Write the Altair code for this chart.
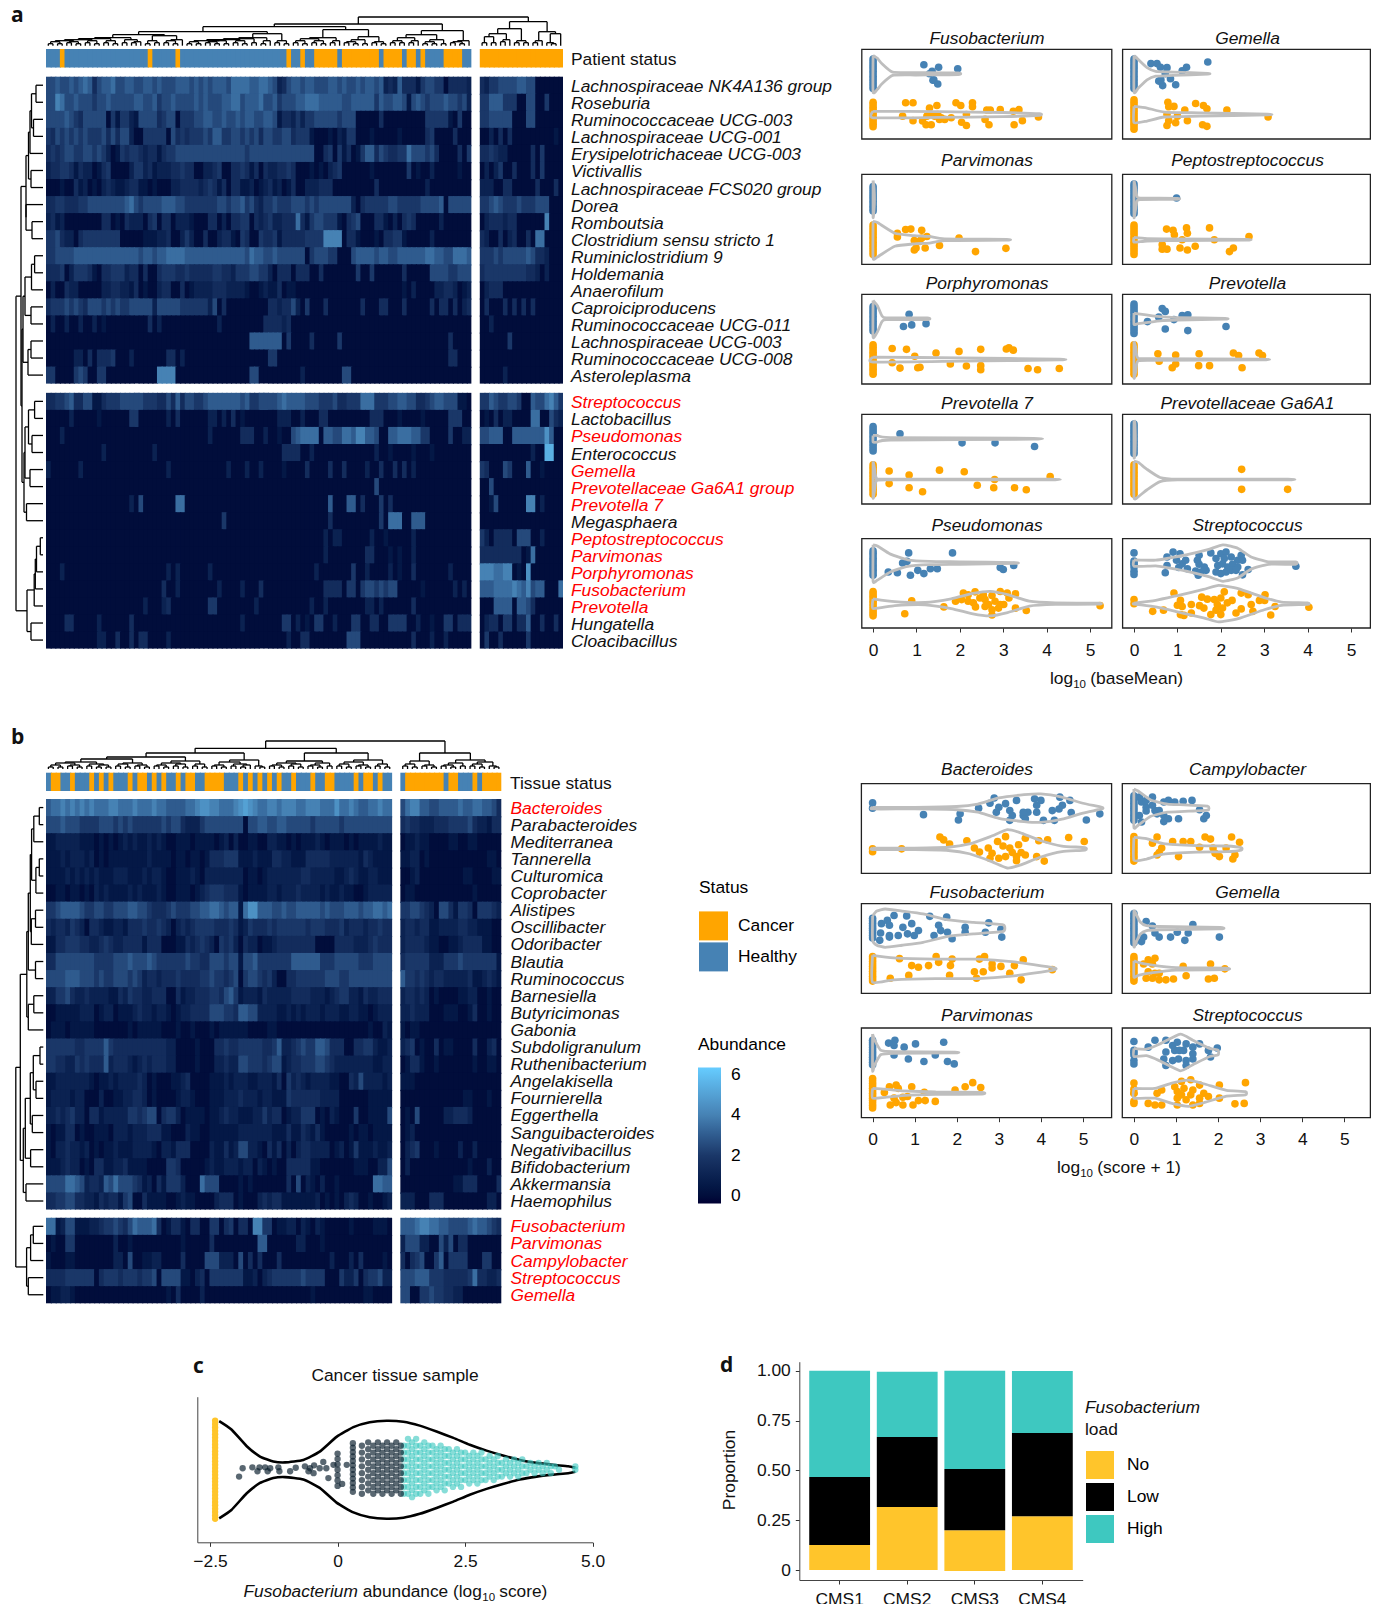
import altair as alt
import pandas as pd

alt.data_transformers.disable_max_rows()
W, H = 1363, 1596
FONT = "Liberation Sans"
FS = 17.4
BLUE, ORANGE = "#4682B4", "#FFA500"
YEL, TEAL = "#FFC52B", "#3EC8C0"
GREY = "#BEBEBE"

# ---------- heat map values: one hex digit per cell, abundance = digit / 2 ----------
A_MAIN = [
"5565565676 3566755665 5665655566 6565656665 7777667765 2356656655 5665655656 6562326333 1455440333 32",
"5587556555 4556555556 6556455655 5565655566 7756667556 4555667776 6666556666 6465566515 6545556554 52",
"5555654355 5550414421 5555345504 4455665565 5656655665 1332424455 5554555000 0030000000 0044444104 00",
"4354545454 4453535520 0444440534 3444546644 5545453554 4553444100 0102144000 1000001000 0034000030 00",
"3434554455 4542014344 3233134455 5555555555 5554555555 5555555500 3404130146 6354334475 5545300003 0451",
"2334431322 0134000024 4231222334 3300223400 3343130322 3343000101 0234000000 1000000040 1002000001 00",
"0001003120 1023211233 1101000223 3332343130 3311201231 2013002223 3300000000 0300000000 0020000000 00",
"3344333445 5555555675 4555566655 4444444554 5564532445 4445554545 5555552034 4444554444 4555560555 55",
"2312000000 0033010322 2034033022 2100033020 3344032342 2333731455 4441034500 0331020343 0000020000 00",
"4453220344 4444440000 0111223002 4200300233 1043004334 1333334444 8888033100 0103344100 0002000000 00",
"4455556666 6666666666 5665667777 6666666666 6665766556 5555550455 5440005666 6566556666 6677665577 76",
"3334024443 1033444233 0300344433 4333334433 2444554420 3330333003 0000000400 4000000300 0005555445 55",
"0200322000 0022332213 0100233003 0122223332 2221001211 3011000000 0000000000 0000000102 0000223320 12",
"3444545435 5545454455 5552555554 4444425030 0000000033 2335204000 3000000030 0033000300 0003033030 23",
"0200200200 2010000000 0030200000 0000000200 0000000333 3230000000 0000000000 0000000000 0000000000 00",
"0000000000 0000000000 0000000000 0000000000 0000666666 6040000300 0004000000 0000000000 0000000300 00",
"0000002203 0333400020 0000003302 0000000000 0000000044 0000000000 0000000000 0000000000 0000000330 00",
"4400004540 0440000000 0000888800 0000000000 0000550000 0000020000 0000550000 0000000000 0000000000 00",
"3344563355 1134445555 5444335363 5544566666 6656445555 6766665554 4453344477 7444556655 3345665551 10",
"0000020000 0100000044 0000002030 0000022020 3010000000 2220020003 3000000000 3330001000 0100000444 00",
"0002000000 0000000000 0000000000 0000020000 0033300200 1005677770 6655776886 6500667776 6440000400 22",
"0000000000 0020000000 0002000000 0000000000 0000000000 0333300200 0000000000 0200100001 0001000000 00",
"2000000200 0000000000 0000002000 0000000002 0002002000 0100003000 0300300002 0030030302 0000000000 00",
"0000000000 0000000000 0000000000 0000000000 0000000000 0000000000 0000000000 0500000000 0000000000 00",
"0000000000 0000000020 5000000077 0000000000 0000000000 0000000000 0600066030 0040300000 0000000000 00",
"0000000000 0000000000 0000000000 0000000040 0000000000 0000000000 0300000000 0040777006 6600000000 00",
"0000000000 0000000000 0000000000 0000000000 0000000000 0000000000 2022000000 2001000002 0000000000 00",
"0000000000 0000000000 0000000000 0000000000 0000000000 0000000000 2000000003 3000101002 0000000000 00",
"0002000000 0000000000 0000002020 0000020000 0000000000 0000000020 0000004002 0000201003 0000000200 00",
"0000000000 0000000000 0000030020 0000000200 0020003000 0000000000 3333044045 5454550000 0100000020 20",
"0000000000 0000000000 0200023000 0000044000 0000020000 0000000200 2000000002 2020000003 0000000000 00",
"0000330000 0200000030 0000000000 0000000000 0020000000 0440201044 0020004400 3300444400 2001004403 33",
"0000000000 0220030030 3300002000 0000000000 0000000000 0020033000 0000055500 0000000003 0002002000 00",
]
A_SIDE = [
"324455556655000000", "446664440055004000", "445555500055000000", "002030300000000010",
"334322000003040000", "020240030003040000", "222003300000300030", "445654445444555000",
"023332330000008000", "320030230030770000", "444545555565332000", "344444444433202000",
"023330000000000000", "030003030303000000", "002000000000000000", "000000400000000000",
"000000000000000000", "000002000000000000", "446544554006557864", "010302200007700532",
"556660066666669600", "00000000000200bb00", "430005400060010000", "005000000000000000",
"001500000088020000", "000000000000000000", "420333305550020000", "333333333017000000",
"888778801090000000", "666777787685660007", "000666606653000000", "023304403360030030",
"040030000040000000",
]
B_MAIN = [
"6778787878 7778877787 7787766667 7899887778 9a98778878 8877888777 9778766778 77",
"5556555444 4555454544 4444545532 2245555555 5055665566 5555545555 5455555555 55",
"1122222111 0101012121 1212100111 0111101202 0011002211 0101112101 1101011112 11",
"1112122212 0101111111 1211110110 1101333444 1112111332 2111333332 2222213211 11",
"1111212121 2111222111 2122100111 2102222222 2011012222 2223322222 1123211221 11",
"0011011010 2121111212 1112100111 0123444333 1011112212 2232222121 1211001222 22",
"4456666544 5544555665 5433345444 5566776566 1799666556 5566666565 5566656677 67",
"3233243203 3211221333 4334320232 3444433343 1243334344 4444344433 3423332334 33",
"1133444332 2343223333 1333000113 2343204342 0322011233 3333330000 3333222343 33",
"3355555555 4444555655 5654444445 4433555455 1556444444 4666666444 5555544455 55",
"5555666555 4544555454 2332333433 3344544345 0455434200 3344444455 5445555555 55",
"2244532232 2221132433 2233300312 2333443564 1222132222 2333322212 3442213223 33",
"0011111222 0122011123 2212210122 3333555443 6655222211 2121222122 2112211012 22",
"0111011111 0000000101 1111000100 1000101111 1100001100 0000000000 0000000100 21",
"4444443344 4464333333 3333322000 0100033433 4444433462 2345446653 3300334421 12",
"4433224343 3362333212 3233322000 0100022322 5544434551 2334445543 2222222211 22",
"1122222221 0112122223 2010001123 0000111212 2211222130 4232122221 1003252222 12",
"1222212200 0200112233 2010000122 1000111222 3222122111 4333333222 2000000111 11",
"2232342203 3122222443 4550344201 1110112322 1112242330 1224440102 1000400111 15",
"1011330100 1110222122 2333110002 1100111111 2222222111 3113213100 0001011011 11",
"1022322120 1011211122 2210221333 0000211312 5522103130 2023322220 1201411121 12",
"1112322010 3311223111 1000044300 0001211222 1220210100 3333311000 0000111002 25",
"5555776523 3265755543 1203144420 0075550000 1010000000 3050210200 1000000077 66",
"3344553322 1323314500 3111100121 1000023330 1000232331 1111112010 1023200100 12",
"7712551112 2344543576 6673013310 3300440340 3308844011 2202102100 0001000011 10",
"0100440000 0000200100 0000000010 0000300000 0000660000 0022000100 0000000000 00",
"1000110000 0000220500 1122000030 0005552220 5030300030 0000000002 0002030000 10",
"3333444444 0344434443 4450555511 0230444444 4112023444 4445444400 0422403445 22",
"0112210000 0000000000 0000010300 0020000000 0000000000 0000010000 0000001100 00",
]
B_SIDE = [
"578866556666766776653", "343322233344445322133", "011211000011001100000", "112201000000000000110",
"001200000000011000011", "011000000000000100000", "445543205531443044432", "233233112222332211100",
"233332110011233331100", "344444222444544444441", "644343233222223112321", "233232010000112200100",
"223222000111001300100", "101100000000000000000", "234010030110000300230", "013310010000000100110",
"111000000000000000000", "000000000000011000100", "010500000223332000000", "012000000000000000000",
"023400010000200200000", "020000000000001000200", "000000000001133300003", "222000333000000000220",
"666788776655556766543", "255522005250330000000", "303450046044440004400", "555666444333334733223",
"550044544332200000000",
]
STATUS_A_CANCER = [3, 22, 28, 52, 55, 58, 59, 60, 61, 62, 64, 65, 66, 67, 68, 69, 70, 71, 73, 74, 75, 76, 78, 79, 81, 86, 87, 88, 89]
STATUS_A_SIDE_HEALTHY = []
STATUS_B_CANCER = [1, 2, 5, 9, 11, 13, 17, 19, 20, 22, 24, 27, 29, 30, 33, 34, 35, 36, 40, 42, 44, 46, 48, 51, 55, 58, 59, 64, 66, 67, 69]
STATUS_B_SIDE_HEALTHY = [0, 9, 12, 13, 14, 16]

A_ROWS = ["Lachnospiraceae NK4A136 group", "Roseburia", "Ruminococcaceae UCG-003", "Lachnospiraceae UCG-001",
          "Erysipelotrichaceae UCG-003", "Victivallis", "Lachnospiraceae FCS020 group", "Dorea", "Romboutsia",
          "Clostridium sensu stricto 1", "Ruminiclostridium 9", "Holdemania", "Anaerofilum", "Caproiciproducens",
          "Ruminococcaceae UCG-011", "Lachnospiraceae UCG-003", "Ruminococcaceae UCG-008", "Asteroleplasma",
          "Streptococcus", "Lactobacillus", "Pseudomonas", "Enterococcus", "Gemella", "Prevotellaceae Ga6A1 group",
          "Prevotella 7", "Megasphaera", "Peptostreptococcus", "Parvimonas", "Porphyromonas", "Fusobacterium",
          "Prevotella", "Hungatella", "Cloacibacillus"]
A_RED = {"Streptococcus", "Pseudomonas", "Gemella", "Prevotellaceae Ga6A1 group", "Prevotella 7",
         "Peptostreptococcus", "Parvimonas", "Porphyromonas", "Fusobacterium", "Prevotella"}
B_ROWS = ["Bacteroides", "Parabacteroides", "Mediterranea", "Tannerella", "Culturomica", "Coprobacter", "Alistipes",
          "Oscillibacter", "Odoribacter", "Blautia", "Ruminococcus", "Barnesiella", "Butyricimonas", "Gabonia",
          "Subdoligranulum", "Ruthenibacterium", "Angelakisella", "Fournierella", "Eggerthella", "Sanguibacteroides",
          "Negativibacillus", "Bifidobacterium", "Akkermansia", "Haemophilus", "Fusobacterium", "Parvimonas",
          "Campylobacter", "Streptococcus", "Gemella"]
B_RED = {"Bacteroides", "Fusobacterium", "Parvimonas", "Campylobacter", "Streptococcus", "Gemella"}

# ---------- dendrogram merge heights between neighbouring leaves ----------
A_TOP_GAPS = [2,4,2,5,3,4,2,6,3,5,2,7,3,5,2,8,3,6,3,4,11,2,5,3,10,3,5,2,6, 14,
              2,4,2,5,3,4,2,5,2,6,3,5,2,7,3,8,2,5,12,3,5,2, 19,
              3,5,2,7,3,5,2,8,3,5,16,3,4,2,6,2,9,3,4,2, 21.7,
              3,5,3,8,3,5,11,2,4,2,6,2,15,3,4,2,5, 28.7,
              3,9,3,12,4,6,17,3,5,3,24,3,5,14,3,2,12]
A_LEFT_GAPS = [7,11.5,9.5,13,14.5,12,17,17,11,22,8.4,11.5,18,12,20,12,15,21,
               8.4,14.5,11,18,13,19,16.5,27,2.7,6.5,7.7,8.8,16,12]
B_TOP_GAPS = [2,4,2,6,3,4,2,7,3,5,2,4,2,10,3,5,2,6,3,4,2,12,3,4,2,6,3,5,2,8,3,5,2,16,3,4,2,7,3,5,2,4,9,3,2, 20.7,
              3,4,2,6,3,5,2,8,3,4,2,6,3,16,3,5,2,7,3,4,2,9,3,5,2, 28,
              3,5,2,8,3,4,2,16,3,4,2,6,3,9,3,5,2,7,3,2]
B_LEFT_GAPS = [4,9.5,11.7,4,7.4,13,7.8,12,15,7.8,16.5,9.5,15,23,3.3,10,7.3,13,11,18,12.7,20,17.3,27.5,
               10,12.7,16.7,15]

# ---------- jitter strip points (log10 value, vertical offset) and violin profiles (value, half width) ----------
ZERO_OFFS = [-.36, -.3, -.24, -.18, -.12, -.06, 0, .06, .12, .18, .24, .3, .36]

A1 = dict(name="Fusobacterium", zero=(.37, .33),
  hp=[(1.17,.22),(1.51,.16),(1.95,.12),(1.36,.06),(1.30,0),(1.38,-.16),(1.49,-.25),(1.40,-.15)],
  cp=[(.75,.29),(.92,.29),(1.30,.16),(1.47,.22),(1.91,.29),(2.02,.22),(2.29,.29),(2.29,.19),(2.62,.11),(2.70,.11),(2.93,.12),(3.23,.08),(3.36,.12),(.68,-.04),(.92,-.15),(1.14,-.16),(1.22,-.25),(1.34,-.25),(1.30,0),(1.42,-.04),(1.57,-.08),(1.65,-.12),(1.80,-.08),(2.04,-.19),(2.15,-.27),(2.15,0),(2.58,-.12),(2.67,-.25),(3.25,-.25),(3.44,-.15),(3.81,-.06),(1.49,0),(1.24,-.04),(1.53,-.12)],
  hv=[(0,.45),(.1,.38),(.2,.25),(.45,.04),(1.0,.03),(1.96,.02)], cv=[(0,.08),(1.5,.07),(3,.05),(3.83,.02)])
A2 = dict(name="Gemella", zero=(.37, .37),
  hp=[(.39,.25),(.53,.25),(.61,.16),(.76,.15),(1.70,.29),(1.21,.16),(1.11,.07),(.72,0),(.57,-.18),(.66,-.29),(.84,-.12),(.96,-.27),(.62,-.15)],
  cp=[(.78,.30),(.80,.19),(.92,.20),(1.17,.11),(1.42,.27),(1.60,.22),(1.68,.14),(2.14,.11),(.76,0),(.76,-.27),(.96,-.20),(1.0,-.04),(1.23,-.15),(.8,-.15),(1.58,-.25),(1.68,-.29),(3.09,-.06)],
  hv=[(0,.45),(.1,.35),(.3,.15),(.5,.06),(.9,.04),(1.7,.01)], cv=[(0,.2),(.3,.16),(.7,.06),(1.5,.04),(3.08,.01)])
A3 = dict(name="Parvimonas", zero=(.33, .37), hp=[],
  cp=[(.56,.16),(.75,.25),(.87,.26),(1.12,.23),(.56,.07),(1.24,.08),(.95,-.02),(1.12,.04),(1.07,-.04),(1.53,-.14),(1.2,-.2),(.95,-.25),(.99,-.2),(1.98,.04),(2.36,-.29),(3.06,-.21)],
  hv=[(0,.45),(.02,.3),(.03,.1)], cv=[(0,.45),(.1,.42),(.5,.16),(.95,.1),(1.3,.08),(1.65,.02),(3.08,.01)])
A4 = dict(name="Peptostreptococcus", zero=(.37, .37), hp=[(.98,.02)],
  cp=[(.75,.26),(.90,.23),(.93,.12),(1.21,.29),(1.23,.16),(1.74,.29),(2.65,.08),(1.11,0),(1.85,0),(.65,-.12),(.65,-.23),(.76,-.23),(1.06,-.2),(1.23,-.25),(1.41,-.16),(2.2,-.29),(2.29,-.2)],
  hv=[(0,.45),(.03,.3),(.07,.05),(.15,.02),(1.0,.01)], cv=[(0,.06),(.3,.03),(1,.02),(2.6,.01)])
A5 = dict(name="Porphyromonas", zero=(.35, .37),
  hp=[(.83,.11),(.70,-.19),(.89,-.15),(1.22,-.12)],
  cp=[(.44,.27),(.77,.25),(.96,.08),(1.45,.16),(1.98,.2),(2.48,.25),(3.07,.26),(3.13,.29),(3.23,.23),(.44,-.08),(.62,-.21),(1.03,-.2),(1.08,-.19),(1.78,-.11),(2.15,-.16),(2.48,-.15),(2.48,-.25),(3.57,-.22),(3.79,-.25),(4.29,-.22)],
  hv=[(0,.45),(.1,.32),(.2,.08),(.3,.02),(1.25,.02)], cv=[(0,.06),(2,.04),(4.3,.01)])
A6 = dict(name="Prevotella", zero=(.37, .37),
  hp=[(.65,.25),(.72,.18),(.57,.04),(.31,-.07),(.92,-.02),(1.11,.08),(1.24,.1),(.72,-.25),(1.24,-.29),(2.12,-.19)],
  cp=[(.55,.14),(.96,.11),(1.5,.14),(2.29,.16),(2.41,.1),(2.88,.16),(2.96,.1),(.58,-.04),(.96,-.11),(.88,-.2),(1.49,-.15),(1.74,-.15),(2.49,-.2)],
  hv=[(0,.14),(.1,.12),(.6,.05),(1.0,.03),(2.1,.01)], cv=[(0,.45),(.04,.3),(.08,.05),(.3,.02),(2.96,.01)])
A7 = dict(name="Prevotella 7", zero=(.35, .37),
  hp=[(.62,.12),(2.05,-.1),(2.81,-.1),(3.72,-.19)],
  cp=[(.37,.21),(.83,.11),(1.53,.23),(2.10,.19),(2.8,0),(4.08,.07),(.37,-.1),(.83,-.2),(1.14,-.3),(2.4,-.14),(2.78,-.2),(3.26,-.2),(3.53,-.25)],
  hv=[(0,.08),(.1,.08),(.4,.03),(3.7,.01)], cv=[(0,.45),(.03,.3),(.07,.05),(.3,.01),(4.08,.01)])
A8 = dict(name="Prevotellaceae Ga6A1", zero=(.37, .37), hp=[],
  cp=[(2.48,.25),(2.48,-.24),(3.54,-.24)],
  hv=[(0,.45),(.02,.4),(.03,.1)], cv=[(0,.45),(.1,.42),(.3,.25),(.6,.05),(1.0,.01),(3.55,.01)])
A9 = dict(name="Pseudomonas", zero=(.33, .35),
  hp=[(.82,.25),(1.83,.25),(.68,0),(.78,.04),(.35,-.22),(.56,-.24),(.86,-.3),(1.03,-.18),(1.17,-.26),(1.32,-.14),(1.48,-.14),(2.93,-.11),(3.0,-.16),(3.24,-.06)],
  cp=[(.89,.07),(1.63,-.08),(.73,-.25),(1.90,.06),(2.08,.26),(2.19,.22),(2.35,.29),(2.54,.22),(2.74,.2),(2.93,.3),(3.09,.26),(3.28,.24),(2.04,.1),(2.19,.06),(2.31,.02),(2.36,-.08),(2.58,.1),(2.66,-.02),(2.81,.06),(2.93,-.02),(3.13,.14),(2.58,-.07),(2.74,-.15),(2.89,-.11),(3.01,-.02),(3.28,-.11),(2.74,-.28),(3.53,-.17),(5.23,-.05),(2.46,.14)],
  hv=[(0,.45),(.1,.42),(.4,.22),(.8,.08),(1.3,.04),(2,.03),(3.27,.01)], cv=[(0,.12),(.5,.05),(1.2,.03),(1.8,.12),(2.3,.25),(2.7,.3),(3.1,.22),(3.6,.06),(4.2,.02),(5.2,.01)])
A10 = dict(name="Streptococcus", zero=(0, 0),
  hp=[(0,.25),(0,.05),(0,-.03),(0,-.1),(0,-.2),(0,-.28),(.9,.27),(.76,.15),(1.06,.23),(1.5,.19),(1.77,.25),(.98,.07),(1.11,-.02),(1.19,.07),(.76,-.06),(.72,-.24),(1.03,-.11),(1.23,-.14),(1.46,.07),(1.5,-.03),(1.42,-.2),(1.54,-.22),(1.66,-.18),(1.48,-.3),(1.62,-.1),(1.89,.11),(2.0,.23),(2.12,.27),(2.08,.11),(2.24,.15),(2.47,.19),(2.39,.07),(2.5,.07),(1.93,-.06),(2.04,-.02),(2.16,-.1),(2.27,-.03),(2.39,-.1),(1.89,-.22),(2.0,-.26),(2.12,-.22),(2.24,-.18),(2.35,-.18),(2.63,-.16),(2.5,-.29),(3.73,-.08)],
  cp=[(0,.1),(.92,.26),(1.07,.08),(.43,-.19),(.68,-.16),(1.0,-.04),(1.11,-.07),(1.07,-.27),(1.15,-.29),(1.32,-.02),(1.32,-.23),(1.56,.16),(1.69,.11),(1.51,-.05),(1.61,-.11),(1.77,-.27),(1.85,.1),(1.92,-.02),(1.89,-.16),(2.0,-.27),(2.08,.29),(2.0,.14),(2.15,.02),(2.26,.08),(2.04,-.11),(2.47,.26),(2.63,.22),(2.35,-.23),(2.47,-.13),(2.7,-.02),(2.74,-.19),(2.89,.08),(3.02,.22),(3.01,.08),(3.25,-.07),(3.15,-.28),(4.03,-.09)],
  hv=[(0,.08),(.5,.07),(.8,.12),(1.2,.2),(1.7,.33),(2.05,.45),(2.4,.36),(2.7,.15),(3.1,.03),(3.72,.03)], cv=[(0,.01),(.5,.08),(1.0,.2),(1.6,.35),(1.95,.45),(2.4,.37),(3.0,.15),(3.4,.04),(4.0,.02)])

B1 = dict(name="Bacteroides", zero=(0, 0),
  hp=[(0,.13),(1.21,-.16),(2.08,-.14),(2.04,-.29),(2.52,0),(2.89,.25),(2.79,.12),(3.0,.02),(2.94,-.1),(3.16,.11),(3.26,-.06),(3.32,-.18),(3.26,-.3),(3.42,.19),(3.58,-.18),(3.69,-.1),(3.85,.23),(3.9,.07),(3.9,-.1),(3.63,-.26),(4.06,-.3),(4.27,-.06),(4.32,-.3),(4.45,.27),(4.51,.07),(4.43,-.02),(4.69,.19),(4.72,-.11),(5.08,-.29),(5.4,-.14),(3.58,-.1),(4.0,.19)],
  cp=[(0,-.07),(.69,0),(1.6,.29),(1.69,.22),(1.83,.12),(2.24,.2),(2.42,.02),(2.54,-.08),(2.75,.02),(2.97,.18),(3.16,.3),(3.1,.07),(3.26,.02),(3.47,.1),(3.63,.26),(3.95,.2),(4.16,.22),(4.66,.28),(5.03,.18),(2.79,-.23),(3.0,-.23),(3.16,-.19),(3.42,-.19),(3.42,-.29),(3.63,-.15),(3.9,-.19),(4.08,-.3),(3.32,-.09),(3.53,-.09),(2.84,-.11)],
  hv=[(0,.02),(1,.02),(2,.04),(2.5,.1),(3,.25),(3.6,.33),(4,.35),(4.5,.27),(5,.12),(5.45,.02)], cv=[(0,.02),(1,.02),(1.8,.04),(2.3,.12),(2.8,.3),(3.2,.47),(3.5,.4),(4,.2),(4.5,.07),(5.05,.03)])
B2 = dict(name="Campylobacter", zero=(.35, .35),
  hp=[(.13,.27),(.18,.15),(.29,.02),(.29,-.07),(.44,.27),(.5,-.06),(.55,-.14),(.71,.15),(.82,.19),(.97,.15),(1.17,.17),(1.38,.19),(.71,-.18),(.71,-.33),(.82,-.26),(1.06,-.26),(1.56,-.04),(1.66,-.26),(1.72,-.18),(.13,-.18),(.18,-.34),(.29,.19),(.44,.07),(.6,-.06)],
  cp=[(.55,.29),(.44,.14),(.92,.18),(1.17,.18),(1.35,.18),(1.69,.29),(1.82,.24),(2.32,.29),(2.51,.16),(1.56,.04),(1.88,.02),(2.19,.02),(.66,.02),(.6,-.09),(.55,-.15),(1.06,-.19),(1.93,-.11),(2.03,-.19),(2.35,-.25),(2.4,-.15)],
  hv=[(0,.47),(.1,.42),(.4,.2),(.8,.1),(1.2,.08),(1.75,.05)], cv=[(0,.28),(.3,.25),(.7,.13),(1.5,.08),(2.2,.07),(2.55,.03)])
B3 = dict(name="Fusobacterium", zero=(.28, .33),
  hp=[(.21,.11),(.35,.19),(.51,.31),(.4,.07),(.81,.3),(.93,.11),(1.36,.29),(1.76,.27),(2.2,.02),(2.76,.13),(3.05,-.03),(3.07,-.22),(2.68,-.1),(2.2,-.1),(.19,-.12),(.17,-.3),(.4,-.18),(.61,-.18),(.83,-.14),(.99,-.18),(1.09,-.06),(1.46,-.18),(1.62,-.06),(1.78,-.1),(1.89,-.26),(1.57,.07),(.4,-.22),(.72,.02)],
  cp=[(.64,.25),(.93,.08),(1.09,.04),(1.33,.08),(1.51,.3),(1.57,.16),(1.89,.24),(1.85,.08),(2.54,.24),(2.66,.3),(2.84,.12),(3.05,.06),(3.58,.22),(3.37,.08),(4.27,-.02),(.42,-.23),(.86,-.16),(1.83,-.16),(2.42,-.07),(2.63,-.07),(2.47,-.23),(3.26,-.11),(3.53,-.27),(2.84,.02)],
  hv=[(0,.3),(.1,.42),(.3,.47),(.7,.42),(1.2,.35),(1.8,.2),(2.4,.14),(3.1,.08)], cv=[(0,.33),(.5,.27),(1.5,.24),(2.5,.24),(3.3,.18),(4.3,.03)])
B4 = dict(name="Gemella", zero=(.37, .35),
  hp=[(.29,.16),(.44,.05),(1.4,.09),(.23,-.22),(.18,-.33),(.6,-.22),(.87,-.22),(1.03,-.1),(1.21,-.3),(1.29,-.12),(2.03,-.22),(.5,-.12)],
  cp=[(.34,.22),(.5,.26),(.23,.12),(.44,.12),(1.17,.06),(1.82,.12),(2.16,0),(.34,-.07),(.5,-.11),(.29,-.23),(.6,-.27),(.76,-.27),(.94,-.25),(1.24,-.17),(1.77,-.25),(1.91,-.23),(.44,-.23),(.6,-.11)],
  hv=[(0,.45),(.05,.35),(.15,.15),(.3,.06),(.6,.04),(2.05,.02)], cv=[(0,.2),(.1,.16),(.4,.1),(1,.03),(2.2,.02)])
B5 = dict(name="Parvimonas", zero=(.35, .37),
  hp=[(.38,.23),(.53,.3),(.51,.17),(.75,.13),(1.02,.21),(1.69,.25),(.51,-.06),(.85,-.16),(1.22,-.22),(1.49,-.06),(1.78,-.22),(1.94,-.28)],
  cp=[(.4,.16),(.56,.2),(.61,.12),(.93,.16),(.28,.02),(1.23,.02),(1.96,.08),(2.2,.16),(2.38,.26),(2.57,.14),(.72,-.1),(.42,-.29),(.56,-.23),(.72,-.29),(.96,-.29),(1.09,-.18),(1.25,-.18),(1.49,-.2),(.51,-.12),(.83,-.08)],
  hv=[(0,.45),(.05,.3),(.2,.05),(.5,.02),(1.96,.01)], cv=[(0,.12),(.3,.1),(.7,.06),(1.5,.03),(2.6,.02)])
B6 = dict(name="Streptococcus", zero=(0, 0),
  hp=[(0,.27),(0,.05),(0,-.06),(0,-.2),(0,-.28),(.34,.13),(.5,.3),(.76,.3),(.92,.17),(1.03,.25),(1.24,.21),(1.4,.13),(.76,.01),(.97,.05),(1.18,.05),(1.4,-.03),(1.56,.21),(1.77,.05),(1.98,.11),(1.82,-.11),(.71,-.16),(.76,-.32),(.92,-.2),(1.06,-.16),(1.24,-.2),(1.24,-.32),(1.4,-.16),(1.08,.05)],
  cp=[(0,.25),(0,.1),(0,0),(0,-.2),(0,-.25),(.66,.08),(.55,0),(.97,.16),(1.13,.29),(1.35,.33),(1.56,.2),(2.03,.2),(2.65,.26),(1.03,.04),(1.19,.12),(1.4,.08),(1.66,0),(1.13,-.04),(1.35,-.04),(1.77,-.08),(2.03,-.12),(2.62,-.25),(2.4,-.26),(.34,-.25),(.5,-.29),(.66,-.29),(1.03,-.29),(1.4,-.29),(1.56,-.25),(1.24,-.16),(1.03,-.12),(1.56,-.12)],
  hv=[(0,.1),(.3,.08),(.6,.2),(1.1,.45),(1.4,.3),(1.8,.1),(2.0,.06)], cv=[(0,.12),(.5,.12),(.9,.25),(1.3,.32),(1.7,.22),(2.2,.07),(2.65,.04)])

# ---------- panel c ----------
C_VIOLIN = [(-2.32,.99),(-2.08,.82),(-1.78,.48),(-1.52,.27),(-1.26,.17),(-1.03,.15),(-.67,.2),(-.35,.37),(-.02,.67),(.31,.87),(.63,.97),(.96,1.0),(1.29,.98),(1.61,.9),(1.94,.78),(2.27,.65),(2.59,.51),(2.92,.39),(3.24,.29),(3.57,.2),(3.9,.14),(4.22,.1),(4.52,.07),(4.66,.04)]
C_NO_X, C_NO_N = -2.40, 30
C_SINGLE = [(-1.86,.03),(-1.93,-.14),(-1.67,.05),(-1.57,-.03),(-1.53,.05),(-1.42,.05),(-1.32,.03),(-1.16,.05),(-1.14,-.03),(-1.37,-.03),(-.93,-.03),(-.82,.04),(-.64,.07),(-.54,.03),(-.57,-.03),(-.46,.09),(-.47,-.07),(-.28,.16),(-.35,.03),(-.18,-.17),(-.08,.1),(-.22,.03),(.18,.1),(.09,-.29)]
C_LOW_X = [0, .30, .477, .6, .7, .79, .88, .97, 1.06, 1.15, 1.24]
C_LOW_N = [7, 12, 8, 8, 8, 8, 8, 8, 8, 8, 8]
C_LOW_STEP = [.11, .09, .14, .14, .14, .14, .14, .14, .14, .14, .14]
C_HIGH_X = [1.3,1.38,1.46,1.54,1.62,1.7,1.78,1.86,1.94,2.02,2.1,2.18,2.26,2.34,2.42,2.5,2.58,2.66,2.74,2.82,2.9,2.98,3.06,3.14,3.22,3.3,3.38,3.46,3.54,3.62,3.7,3.78,3.86,3.94,4.02,4.1,4.18,4.26,4.34,4.66,4.66]
C_HIGH_N = [8,9,9,9,8,8,8,7,7,7,7,6,6,6,6,5,5,5,5,5,4,4,4,4,3,3,3,3,3,3,2,2,2,2,2,2,2,1,1,1,1]

# ---------- panel d ----------
D_CMS = ["CMS1", "CMS2", "CMS3", "CMS4"]
D_LOW_EDGE = [0, 0, -.005, 0]
D_NO_TOP = [.125, .316, .2, .27]
D_LOW_TOP = [.467, .667, .507, .687]
D_HIGH_TOP = [1.0, .995, 1.0, .998]


def px(v):
    return v - 8


def lin(domain, a, b):
    return alt.Scale(domain=domain, range=[px(a), px(b)], nice=False, zero=False)


AX = dict(labelFont=FONT, labelFontSize=FS, labelColor="#111", grid=False, title=None, labelFlush=False,
          tickColor="#333", domainColor="#444")


def text(t, x, y, size=FS, italic=False, bold=False, align="left", baseline="middle", font=FONT, angle=0, color="#111"):
    kw = dict(font=font, fontSize=size, align=align, baseline=baseline, color=color, angle=angle)
    if italic:
        kw["fontStyle"] = "italic"
    if bold:
        kw["fontWeight"] = "bold"
    return alt.Chart(pd.DataFrame({"t": [t]})).mark_text(**kw).encode(
        text="t:N", x=alt.value(px(x)), y=alt.value(px(y)))


def digits(rows, n):
    out = []
    for r in rows:
        s = r.replace(" ", "")
        out.append((s + "0" * n)[:n])
    return out


def dendro(pos, gaps, hs, vs):
    if len(pos) == 1:
        return pos[0], 0
    m = max(range(len(gaps)), key=lambda i: gaps[i])
    lx, lh = dendro(pos[:m + 1], gaps[:m], hs, vs)
    rx, rh = dendro(pos[m + 1:], gaps[m + 1:], hs, vs)
    h = gaps[m]
    hs.append({"a": lx, "b": rx, "h": h})
    vs.append({"a": lx, "h0": lh, "h1": h})
    vs.append({"a": rx, "h0": rh, "h1": h})
    return (lx + rx) / 2, h


def tree_layers(pos, gaps, leaf_scale, h_scale, top=True):
    hs, vs = [], []
    dendro(pos, gaps, hs, vs)
    hd, vd = pd.DataFrame(hs), pd.DataFrame(vs)
    mk = dict(color="#000", strokeWidth=1.3)
    if top:
        return [
            alt.Chart(hd).mark_rule(**mk).encode(x=alt.X("a:Q", scale=leaf_scale, axis=None), x2="b:Q",
                                                 y=alt.Y("h:Q", scale=h_scale, axis=None)),
            alt.Chart(vd).mark_rule(**mk).encode(x=alt.X("a:Q", scale=leaf_scale, axis=None),
                                                 y=alt.Y("h0:Q", scale=h_scale, axis=None), y2="h1:Q"),
        ]
    return [
        alt.Chart(hd).mark_rule(**mk).encode(y=alt.Y("a:Q", scale=leaf_scale, axis=None), y2="b:Q",
                                             x=alt.X("h:Q", scale=h_scale, axis=None)),
        alt.Chart(vd).mark_rule(**mk).encode(y=alt.Y("a:Q", scale=leaf_scale, axis=None),
                                             x=alt.X("h0:Q", scale=h_scale, axis=None), x2="h1:Q"),
    ]


HEAT_SCALE = alt.Scale(domain=[-.35, 2, 4, 6.35], range=["#000033", "#1a3768", "#4682b4", "#66ccff"], nice=False, zero=False)
STATUS_SCALE = alt.Scale(domain=["Cancer", "Healthy"], range=[ORANGE, BLUE])
OVER_X, OVER_Y = 1.25, 1.08  # each cell runs just under its right and lower neighbours, so no seam shows


def heat_block(main, side, nmain, nside, ngap_rows, split, xs, ys, legend=None):
    rows = []
    mrows, srows = digits(main, nmain), digits(side, nside)
    gapc = xs["gap"]
    nr = len(mrows)
    for r, (m, s) in enumerate(zip(mrows, srows)):
        y = r + (ngap_rows if r >= split else 0)
        y2 = y + (1 if r in (split - 1, nr - 1) else OVER_Y)
        for c, ch in enumerate(m):
            rows.append({"x0": c, "x1": c + (1 if c == nmain - 1 else OVER_X), "y0": y, "y1": y2, "v": int(ch, 16) / 2})
        for c, ch in enumerate(s):
            cc = nmain + gapc + c
            rows.append({"x0": cc, "x1": cc + (1 if c == nside - 1 else OVER_X), "y0": y, "y1": y2, "v": int(ch, 16) / 2})
    col = alt.Color("v:Q", scale=HEAT_SCALE, legend=legend)
    return alt.Chart(pd.DataFrame(rows)).mark_rect(strokeWidth=0, opacity=1).encode(
        x=alt.X("x0:Q", scale=xs["s"], axis=None), x2="x1:Q",
        y=alt.Y("y0:Q", scale=ys, axis=None), y2="y1:Q", color=col)


def status_bar(cancer_main, healthy_side, nmain, nside, xs, y0, y1, legend=None):
    gapc = xs["gap"]
    rows = []
    for c in range(nmain):
        rows.append({"x0": c, "x1": c + (1 if c == nmain - 1 else OVER_X), "s": "Cancer" if c in cancer_main else "Healthy"})
    for c in range(nside):
        cc = nmain + gapc + c
        rows.append({"x0": cc, "x1": cc + (1 if c == nside - 1 else OVER_X), "s": "Healthy" if c in healthy_side else "Cancer"})
    d = pd.DataFrame(rows)
    d["y0"], d["y1"] = 0, 1
    return alt.Chart(d).mark_rect(strokeWidth=0, opacity=1).encode(
        x=alt.X("x0:Q", scale=xs["s"], axis=None), x2="x1:Q",
        y=alt.Y("y0:Q", scale=lin([0, 1], y1, y0), axis=None), y2="y1:Q",
        color=alt.Color("s:N", scale=STATUS_SCALE, legend=legend))


def row_labels(names, red, split, gap, yscale, x, dy):
    rows = []
    for i, n in enumerate(names):
        rows.append({"t": n, "y": i + .5 + (gap if i >= split else 0), "c": "#ff0000" if n in red else "#111111"})
    return alt.Chart(pd.DataFrame(rows)).mark_text(font=FONT, fontSize=FS, fontStyle="italic", align="left", baseline="middle", dy=dy).encode(
        text="t:N", y=alt.Y("y:Q", scale=yscale, axis=None), x=alt.value(px(x)), color=alt.Color("c:N", scale=None))


def outline(center, prof, who):
    up = [(x, center + h) for x, h in prof]
    lo = [(x, center - h) for x, h in reversed(prof)]
    path = up + lo + [up[0]]
    return [{"x": x, "y": y, "i": i, "who": who} for i, (x, y) in enumerate(path)]


def title_x(xa):
    return 987 if xa < 1000 else 1247.5


def violin_panel(p, x_dom, xa, xb, ya, yb, title_y, axis=False):
    xs = lin(x_dom, xa, xb)
    ys = lin([.4, 2.6], yb, ya)
    pts = []
    for o in ZERO_OFFS:
        if abs(o) <= p["zero"][0]:
            pts.append({"x": 0, "y": 2 + o, "s": "Healthy"})
        if abs(o) <= p["zero"][1]:
            pts.append({"x": 0, "y": 1 + o, "s": "Cancer"})
    pts += [{"x": a, "y": 2 + b, "s": "Healthy"} for a, b in p["hp"]]
    pts += [{"x": a, "y": 1 + b, "s": "Cancer"} for a, b in p["cp"]]
    frame = pd.DataFrame({"x0": [x_dom[0]], "x1": [x_dom[1]], "y0": [.4], "y1": [2.6]})
    if axis:
        xaxis = alt.Axis(orient="bottom", values=[0, 1, 2, 3, 4, 5], format="d", domain=False, tickSize=4, labelPadding=9,
                         offset=-(H - px(yb)), **AX)
    else:
        xaxis = None
    out = [alt.Chart(frame).mark_rect(fillOpacity=0, stroke="#222", strokeWidth=1.3).encode(
        x=alt.X("x0:Q", scale=xs, axis=xaxis), x2="x1:Q",
        y=alt.Y("y0:Q", scale=ys, axis=None), y2="y1:Q")]
    out.append(alt.Chart(pd.DataFrame(pts)).mark_circle(size=58, opacity=1).encode(
        x=alt.X("x:Q", scale=xs, axis=None), y=alt.Y("y:Q", scale=ys, axis=None),
        color=alt.Color("s:N", scale=STATUS_SCALE, legend=None)))
    line = pd.DataFrame(outline(2, p["hv"], "H") + outline(1, p["cv"], "C"))
    out.append(alt.Chart(line).mark_line(color=GREY, strokeWidth=2.8, interpolate="cardinal", tension=.5).encode(
        x=alt.X("x:Q", scale=xs, axis=None), y=alt.Y("y:Q", scale=ys, axis=None),
        detail="who:N", order="i:Q"))
    out.append(text(p["name"], title_x(xa), title_y, italic=True, align="center"))
    return out


L = []

# ----- panel a -----
XA = {"s": lin([0, 110 + 1.82], 46, 563), "gap": 1.82}
YA = lin([0, 33.54], 76.7, 648.6)
L.append(status_bar(STATUS_A_CANCER, STATUS_A_SIDE_HEALTHY, 92, 18, XA, 49, 67.5))
L.append(heat_block(A_MAIN, A_SIDE, 92, 18, .54, 18, XA, YA))
pos_a = [c + .5 for c in range(92)] + [92 + 1.82 + c + .5 for c in range(18)]
L += tree_layers(pos_a, A_TOP_GAPS, XA["s"], lin([0, 30], 45.7, 15.7))
rows_a = [r + .5 + (.54 if r >= 18 else 0) for r in range(33)]
L += tree_layers(rows_a, A_LEFT_GAPS, YA, lin([0, 30], 43, 13), top=False)
L.append(row_labels(A_ROWS, A_RED, 18, .54, YA, 571, 2))
L.append(text("Patient status", 571, 60))
L.append(text("a", 11, 16, size=21, bold=True, font="Open Sans"))

# ----- panel b -----
XB = {"s": lin([0, 93 + 1.71], 46, 501.3), "gap": 1.71}
YB = lin([0, 29.48], 799, 1303.3)
L.append(status_bar(STATUS_B_CANCER, STATUS_B_SIDE_HEALTHY, 72, 21, XB, 772.7, 791,
                    legend=alt.Legend(orient="none", legendX=px(699), legendY=px(879), title="Status",
                                      titleFont=FONT, titleFontSize=FS, titleFontWeight="normal", titlePadding=15,
                                      labelFont=FONT, labelFontSize=FS, labelOffset=10, symbolType="square",
                                      symbolSize=841, symbolStrokeWidth=0, rowPadding=2)))
L.append(heat_block(B_MAIN, B_SIDE, 72, 21, .48, 24, XB, YB,
                    legend=alt.Legend(orient="none", legendX=px(698), legendY=px(1036), title="Abundance",
                                      titleFont=FONT, titleFontSize=FS, titleFontWeight="normal", titlePadding=14,
                                      labelFont=FONT, labelFontSize=FS, labelOffset=10, gradientLength=136, gradientThickness=23,
                                      values=[0, 2, 4, 6], direction="vertical", type="gradient")))
pos_b = [c + .5 for c in range(72)] + [72 + 1.71 + c + .5 for c in range(21)]
L += tree_layers(pos_b, B_TOP_GAPS, XB["s"], lin([0, 30], 769, 739))
rows_b = [r + .5 + (.48 if r >= 24 else 0) for r in range(29)]
L += tree_layers(rows_b, B_LEFT_GAPS, YB, lin([0, 30], 43.3, 13.3), top=False)
L.append(row_labels(B_ROWS, B_RED, 24, .48, YB, 510.5, 1))
L.append(text("Tissue status", 510, 784))
L.append(text("b", 11, 738, size=21, bold=True, font="Open Sans"))

# colour-bar tick marks
ticks = pd.DataFrame({"v": [0, 2, 4, 6]})
tick_y = lin([-.35, 6.35], 1202, 1066)
L.append(alt.Chart(ticks).mark_rule(color="#fff", strokeWidth=1).encode(
    y=alt.Y("v:Q", scale=tick_y, axis=None), x=alt.value(px(698)), x2=alt.value(px(703))))
L.append(alt.Chart(ticks).mark_rule(color="#fff", strokeWidth=1).encode(
    y=alt.Y("v:Q", scale=tick_y, axis=None), x=alt.value(px(716)), x2=alt.value(px(721))))

# ----- violins a -----
DOM_A1, DOM_A2 = [-.26, 5.5], [-.263, 5.447]
C1A, C2A = (861.8, 1111.8), (1122.6, 1370.4)
ROWS_A = [(49.3, 139, 39), (174.3, 264.3, 160.5), (294.3, 384, 283.5), (414.3, 504, 404), (538.7, 628, 526)]
for i, (pl, pr) in enumerate([(A1, A2), (A3, A4), (A5, A6), (A7, A8), (A9, A10)]):
    ya, yb, ty = ROWS_A[i]
    L += violin_panel(pl, DOM_A1, *C1A, ya, yb, ty, axis=i == 4)
    L += violin_panel(pr, DOM_A2, *C2A, ya, yb, ty, axis=i == 4)
L += [text("log", 1050, 684, baseline="alphabetic"), text("10", 1073.2, 688, size=11.5, baseline="alphabetic"),
      text("(baseMean)", 1090.3, 684, baseline="alphabetic")]

# ----- violins b -----
DOM_B1, DOM_B2 = [-.266, 5.68], [-.276, 5.618]
C1B, C2B = (861.4, 1111.6), (1122.3, 1370.4)
ROWS_B = [(783.7, 873.3, 769.5), (903.7, 993.3, 893), (1028, 1117.7, 1016)]
for i, (pl, pr) in enumerate([(B1, B2), (B3, B4), (B5, B6)]):
    ya, yb, ty = ROWS_B[i]
    L += violin_panel(pl, DOM_B1, *C1B, ya, yb, ty, axis=i == 2)
    L += violin_panel(pr, DOM_B2, *C2B, ya, yb, ty, axis=i == 2)
L += [text("log", 1057, 1173, baseline="alphabetic"), text("10", 1080.2, 1177, size=11.5, baseline="alphabetic"),
      text("(score + 1)", 1097.3, 1173, baseline="alphabetic")]

# ----- panel c -----
xc = lin([-2.749, 5.0], 197.3, 592.7)
yc = lin([-1.48, 1.49], 1542.3, 1396.7)


def swarm(xv, nv, steps):
    rows = []
    for j, (x, n, st) in enumerate(zip(xv, nv, steps)):
        shift = st / 2 if j % 2 else 0
        for k in range(n):
            rows.append({"x": x, "y": (k - (n - 1) / 2) * st + shift})
    return pd.DataFrame(rows)


frame_c = pd.DataFrame({"x": [-2.749, 5.0], "y": [-1.48, -1.48]})
L.append(alt.Chart(frame_c).mark_line(opacity=0).encode(
    x=alt.X("x:Q", scale=xc, axis=alt.Axis(orient="bottom", values=[-2.5, 0, 2.5, 5],
            labelExpr="datum.value==0?'0':replace(format(datum.value,'.1f'),'-','\u2013')",
            tickSize=4, labelPadding=6, offset=-(H - px(1542.3)), **AX)),
    y=alt.Y("y:Q", scale=yc, axis=alt.Axis(orient="left", labels=False, ticks=False, offset=-px(197.3), **AX))))
c_line = []
for who, sign in [("u", 1), ("l", -1)]:
    for i, (x, h) in enumerate(C_VIOLIN):
        c_line.append({"x": x, "y": sign * h, "i": i, "who": who})
L.append(alt.Chart(pd.DataFrame(c_line)).mark_line(color="#000", strokeWidth=2.6, interpolate="cardinal", tension=.5).encode(
    x=alt.X("x:Q", scale=xc, axis=None), y=alt.Y("y:Q", scale=yc, axis=None), detail="who:N", order="i:Q"))
high = swarm(C_HIGH_X, C_HIGH_N, [.14] * len(C_HIGH_X))
low = pd.concat([swarm(C_LOW_X, C_LOW_N, C_LOW_STEP), pd.DataFrame(C_SINGLE, columns=["x", "y"])])
none = swarm([C_NO_X], [C_NO_N], [.069])
for d, colr, op in [(high, TEAL, .62), (low, "#0a1f2e", .68), (none, YEL, 1)]:
    L.append(alt.Chart(d).mark_circle(size=40, opacity=op, color=colr).encode(
        x=alt.X("x:Q", scale=xc, axis=None), y=alt.Y("y:Q", scale=yc, axis=None)))
L.append(text("Cancer tissue sample", 395, 1376, align="center"))
L += [text("Fusobacterium", 243.5, 1597, size=17.3, italic=True, baseline="alphabetic"),
      text("abundance (log", 362.7, 1597, size=17.3, baseline="alphabetic"),
      text("10", 482.3, 1601, size=11.5, baseline="alphabetic"),
      text("score)", 499.3, 1597, size=17.3, baseline="alphabetic")]
L.append(text("c", 193, 1367, size=21, bold=True, font="Open Sans"))

# ----- panel d -----
rows_d = []
for i, c in enumerate(D_CMS):
    rows_d.append({"c": c, "lo": D_LOW_EDGE[i], "hi": D_NO_TOP[i], "l": "No"})
    rows_d.append({"c": c, "lo": D_NO_TOP[i], "hi": D_LOW_TOP[i], "l": "Low"})
    rows_d.append({"c": c, "lo": D_LOW_TOP[i], "hi": D_HIGH_TOP[i], "l": "High"})
xd = alt.Scale(domain=D_CMS, range=[px(799.3), px(1082.7)], paddingInner=.1, paddingOuter=.147)
yd = lin([-.05, 1.045], 1580, 1361.7)
L.append(alt.Chart(pd.DataFrame(rows_d)).mark_bar(strokeWidth=0, opacity=1).encode(
    x=alt.X("c:N", scale=xd, sort=D_CMS, axis=alt.Axis(orient="bottom", labelAngle=0, tickSize=4, labelPadding=6, offset=-(H - px(1580)), **AX)),
    y=alt.Y("lo:Q", scale=yd, axis=alt.Axis(orient="left", values=[0, .25, .5, .75, 1],
            labelExpr="datum.value==0?'0':format(datum.value,'.2f')", tickSize=4, labelPadding=5,
            offset=-px(799.3), **AX)),
    y2="hi:Q",
    color=alt.Color("l:N", scale=alt.Scale(domain=["No", "Low", "High"], range=[YEL, "#000000", TEAL]),
                    legend=alt.Legend(orient="none", legendX=px(1086), legendY=px(1451), title=None,
                                      labelFont=FONT, labelFontSize=FS, labelOffset=13, symbolType="square",
                                      symbolSize=784, symbolStrokeWidth=0, rowPadding=4))))
L.append(text("Proportion", 730, 1470, align="center", angle=270))
L += [text("Fusobacterium", 1085, 1408, italic=True), text("load", 1085, 1430)]
L.append(text("d", 720, 1366, size=21, bold=True, font="Open Sans"))

chart = alt.layer(*L).resolve_scale(x="independent", y="independent", color="independent").properties(
    width=W, height=H, padding=0, autosize=alt.AutoSizeParams(type="none"),
).configure_view(stroke=None)
chart.save("out.html", embed_options={"renderer": "svg", "actions": False})
